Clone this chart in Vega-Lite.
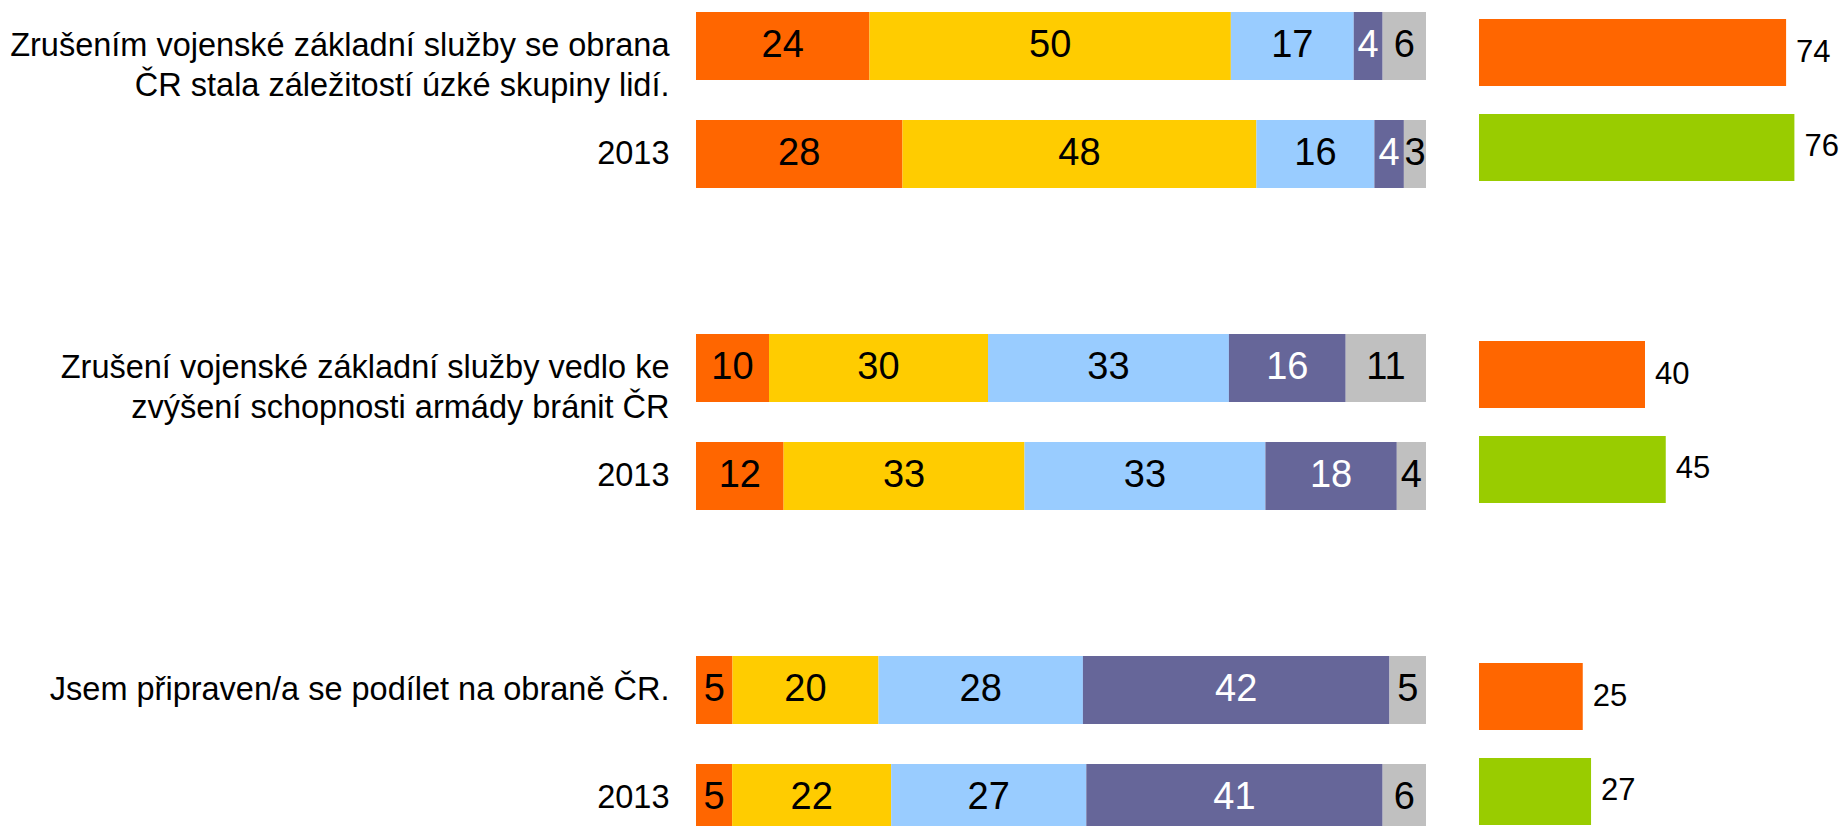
{
  "$schema": "https://vega.github.io/schema/vega-lite/v6.json",
  "padding": 0,
  "background": "white",
  "config": {"view": {"stroke": null}, "font": "Liberation Sans", "text": {"font": "Liberation Sans"}},
  "datasets": {
    "stack": [
      {"g": 1, "row": "Zrušením vojenské základní služby se obrana|ČR stala záležitostí úzké skupiny lidí.", "cat": "a", "k": 1, "value": 24},
      {"g": 1, "row": "Zrušením vojenské základní služby se obrana|ČR stala záležitostí úzké skupiny lidí.", "cat": "b", "k": 2, "value": 50},
      {"g": 1, "row": "Zrušením vojenské základní služby se obrana|ČR stala záležitostí úzké skupiny lidí.", "cat": "c", "k": 3, "value": 17},
      {"g": 1, "row": "Zrušením vojenské základní služby se obrana|ČR stala záležitostí úzké skupiny lidí.", "cat": "d", "k": 4, "value": 4},
      {"g": 1, "row": "Zrušením vojenské základní služby se obrana|ČR stala záležitostí úzké skupiny lidí.", "cat": "e", "k": 5, "value": 6},
      {"g": 1, "row": "2013", "cat": "a", "k": 1, "value": 28},
      {"g": 1, "row": "2013", "cat": "b", "k": 2, "value": 48},
      {"g": 1, "row": "2013", "cat": "c", "k": 3, "value": 16},
      {"g": 1, "row": "2013", "cat": "d", "k": 4, "value": 4},
      {"g": 1, "row": "2013", "cat": "e", "k": 5, "value": 3},
      {"g": 2, "row": "Zrušení vojenské základní služby vedlo ke|zvýšení schopnosti armády bránit ČR", "cat": "a", "k": 1, "value": 10},
      {"g": 2, "row": "Zrušení vojenské základní služby vedlo ke|zvýšení schopnosti armády bránit ČR", "cat": "b", "k": 2, "value": 30},
      {"g": 2, "row": "Zrušení vojenské základní služby vedlo ke|zvýšení schopnosti armády bránit ČR", "cat": "c", "k": 3, "value": 33},
      {"g": 2, "row": "Zrušení vojenské základní služby vedlo ke|zvýšení schopnosti armády bránit ČR", "cat": "d", "k": 4, "value": 16},
      {"g": 2, "row": "Zrušení vojenské základní služby vedlo ke|zvýšení schopnosti armády bránit ČR", "cat": "e", "k": 5, "value": 11},
      {"g": 2, "row": "2013", "cat": "a", "k": 1, "value": 12},
      {"g": 2, "row": "2013", "cat": "b", "k": 2, "value": 33},
      {"g": 2, "row": "2013", "cat": "c", "k": 3, "value": 33},
      {"g": 2, "row": "2013", "cat": "d", "k": 4, "value": 18},
      {"g": 2, "row": "2013", "cat": "e", "k": 5, "value": 4},
      {"g": 3, "row": "Jsem připraven/a se podílet na obraně ČR.", "cat": "a", "k": 1, "value": 5},
      {"g": 3, "row": "Jsem připraven/a se podílet na obraně ČR.", "cat": "b", "k": 2, "value": 20},
      {"g": 3, "row": "Jsem připraven/a se podílet na obraně ČR.", "cat": "c", "k": 3, "value": 28},
      {"g": 3, "row": "Jsem připraven/a se podílet na obraně ČR.", "cat": "d", "k": 4, "value": 42},
      {"g": 3, "row": "Jsem připraven/a se podílet na obraně ČR.", "cat": "e", "k": 5, "value": 5},
      {"g": 3, "row": "2013", "cat": "a", "k": 1, "value": 5},
      {"g": 3, "row": "2013", "cat": "b", "k": 2, "value": 22},
      {"g": 3, "row": "2013", "cat": "c", "k": 3, "value": 27},
      {"g": 3, "row": "2013", "cat": "d", "k": 4, "value": 41},
      {"g": 3, "row": "2013", "cat": "e", "k": 5, "value": 6}
    ],
    "total": [
      {"g": 1, "row": "now", "value": 74},
      {"g": 1, "row": "2013", "value": 76},
      {"g": 2, "row": "now", "value": 40},
      {"g": 2, "row": "2013", "value": 45},
      {"g": 3, "row": "now", "value": 25},
      {"g": 3, "row": "2013", "value": 27}
    ]
  },
  "spacing": 122,
  "resolve": {"scale": {"x": "independent", "y": "independent", "color": "independent"}},
  "vconcat": [
    {
      "spacing": 53,
      "resolve": {"scale": {"x": "independent", "y": "independent", "color": "independent"}},
      "hconcat": [
        {
          "width": 730, "height": 200,
          "data": {"name": "stack"},
          "transform": [{"filter": "datum.g == 1"}],
          "encoding": {
            "y": {"field": "row", "type": "nominal", "sort": null,
              "scale": {"domain": ["Zrušením vojenské základní služby se obrana|ČR stala záležitostí úzké skupiny lidí.", "2013"], "range": [0, 200], "paddingInner": 0.3704, "paddingOuter": 0.111},
              "axis": {"title": null, "domain": false, "ticks": false, "grid": false, "labelPadding": 27, "labelFontSize": 32.5, "labelFont": "Liberation Sans", "labelColor": "black", "labelLimit": 0, "labelLineHeight": 40, "labelExpr": "split(datum.value, '|')", "minExtent": 696, "maxExtent": 696}},
            "x": {"field": "value", "type": "quantitative", "stack": "normalize", "axis": null, "scale": {"domain": [0, 1], "nice": false}},
            "order": {"field": "k", "type": "quantitative"},
            "detail": {"field": "cat"}
          },
          "layer": [
            {"mark": {"type": "bar", "clip": true},
             "encoding": {"color": {"field": "cat", "type": "nominal", "legend": null, "scale": {"domain": ["a", "b", "c", "d", "e"], "range": ["#FF6600", "#FFCC00", "#99CCFF", "#666699", "#C0C0C0"]}}}},
            {"mark": {"type": "text", "fontSize": 38, "clip": true, "baseline": "middle"},
             "encoding": {"x": {"field": "value", "type": "quantitative", "stack": "normalize", "bandPosition": 0.5, "axis": null, "scale": {"domain": [0, 1], "nice": false}},
               "text": {"field": "value"},
               "color": {"condition": {"test": "datum.cat == 'd'", "value": "white"}, "value": "black"}}}
          ]
        },
        {
          "width": 332, "height": 200,
          "data": {"name": "total"},
          "transform": [{"filter": "datum.g == 1"}],
          "encoding": {
            "y": {"field": "row", "type": "nominal", "sort": null, "axis": null,
              "scale": {"domain": ["now", "2013"], "range": [0, 200], "paddingInner": 0.2947, "paddingOuter": 0.2}},
            "x": {"field": "value", "type": "quantitative", "axis": null, "scale": {"domain": [0, 80], "nice": false}}
          },
          "layer": [
            {"mark": {"type": "bar"},
             "encoding": {"color": {"condition": {"test": "datum.row == '2013'", "value": "#99CC00"}, "value": "#FF6600"}}},
            {"mark": {"type": "text", "align": "left", "dx": 10, "fontSize": 31, "baseline": "middle", "color": "black"},
             "encoding": {"text": {"field": "value"}}}
          ]
        }
      ]
    },
    {
      "spacing": 53,
      "resolve": {"scale": {"x": "independent", "y": "independent", "color": "independent"}},
      "hconcat": [
        {
          "width": 730, "height": 200,
          "data": {"name": "stack"},
          "transform": [{"filter": "datum.g == 2"}],
          "encoding": {
            "y": {"field": "row", "type": "nominal", "sort": null,
              "scale": {"domain": ["Zrušení vojenské základní služby vedlo ke|zvýšení schopnosti armády bránit ČR", "2013"], "range": [0, 200], "paddingInner": 0.3704, "paddingOuter": 0.111},
              "axis": {"title": null, "domain": false, "ticks": false, "grid": false, "labelPadding": 27, "labelFontSize": 32.5, "labelFont": "Liberation Sans", "labelColor": "black", "labelLimit": 0, "labelLineHeight": 40, "labelExpr": "split(datum.value, '|')", "minExtent": 696, "maxExtent": 696}},
            "x": {"field": "value", "type": "quantitative", "stack": "normalize", "axis": null, "scale": {"domain": [0, 1], "nice": false}},
            "order": {"field": "k", "type": "quantitative"},
            "detail": {"field": "cat"}
          },
          "layer": [
            {"mark": {"type": "bar", "clip": true},
             "encoding": {"color": {"field": "cat", "type": "nominal", "legend": null, "scale": {"domain": ["a", "b", "c", "d", "e"], "range": ["#FF6600", "#FFCC00", "#99CCFF", "#666699", "#C0C0C0"]}}}},
            {"mark": {"type": "text", "fontSize": 38, "clip": true, "baseline": "middle"},
             "encoding": {"x": {"field": "value", "type": "quantitative", "stack": "normalize", "bandPosition": 0.5, "axis": null, "scale": {"domain": [0, 1], "nice": false}},
               "text": {"field": "value"},
               "color": {"condition": {"test": "datum.cat == 'd'", "value": "white"}, "value": "black"}}}
          ]
        },
        {
          "width": 332, "height": 200,
          "data": {"name": "total"},
          "transform": [{"filter": "datum.g == 2"}],
          "encoding": {
            "y": {"field": "row", "type": "nominal", "sort": null, "axis": null,
              "scale": {"domain": ["now", "2013"], "range": [0, 200], "paddingInner": 0.2947, "paddingOuter": 0.2}},
            "x": {"field": "value", "type": "quantitative", "axis": null, "scale": {"domain": [0, 80], "nice": false}}
          },
          "layer": [
            {"mark": {"type": "bar"},
             "encoding": {"color": {"condition": {"test": "datum.row == '2013'", "value": "#99CC00"}, "value": "#FF6600"}}},
            {"mark": {"type": "text", "align": "left", "dx": 10, "fontSize": 31, "baseline": "middle", "color": "black"},
             "encoding": {"text": {"field": "value"}}}
          ]
        }
      ]
    },
    {
      "spacing": 53,
      "resolve": {"scale": {"x": "independent", "y": "independent", "color": "independent"}},
      "hconcat": [
        {
          "width": 730, "height": 182,
          "data": {"name": "stack"},
          "transform": [{"filter": "datum.g == 3"}],
          "encoding": {
            "y": {"field": "row", "type": "nominal", "sort": null,
              "scale": {"domain": ["Jsem připraven/a se podílet na obraně ČR.", "2013"], "range": [0, 200], "paddingInner": 0.3704, "paddingOuter": 0.111},
              "axis": {"title": null, "domain": false, "ticks": false, "grid": false, "labelPadding": 27, "labelFontSize": 32.5, "labelFont": "Liberation Sans", "labelColor": "black", "labelLimit": 0, "labelLineHeight": 40, "labelExpr": "split(datum.value, '|')", "minExtent": 696, "maxExtent": 696}},
            "x": {"field": "value", "type": "quantitative", "stack": "normalize", "axis": null, "scale": {"domain": [0, 1], "nice": false}},
            "order": {"field": "k", "type": "quantitative"},
            "detail": {"field": "cat"}
          },
          "layer": [
            {"mark": {"type": "bar", "clip": true},
             "encoding": {"color": {"field": "cat", "type": "nominal", "legend": null, "scale": {"domain": ["a", "b", "c", "d", "e"], "range": ["#FF6600", "#FFCC00", "#99CCFF", "#666699", "#C0C0C0"]}}}},
            {"mark": {"type": "text", "fontSize": 38, "clip": true, "baseline": "middle"},
             "encoding": {"x": {"field": "value", "type": "quantitative", "stack": "normalize", "bandPosition": 0.5, "axis": null, "scale": {"domain": [0, 1], "nice": false}},
               "text": {"field": "value"},
               "color": {"condition": {"test": "datum.cat == 'd'", "value": "white"}, "value": "black"}}}
          ]
        },
        {
          "width": 332, "height": 182,
          "data": {"name": "total"},
          "transform": [{"filter": "datum.g == 3"}],
          "encoding": {
            "y": {"field": "row", "type": "nominal", "sort": null, "axis": null,
              "scale": {"domain": ["now", "2013"], "range": [0, 200], "paddingInner": 0.2947, "paddingOuter": 0.2}},
            "x": {"field": "value", "type": "quantitative", "axis": null, "scale": {"domain": [0, 80], "nice": false}}
          },
          "layer": [
            {"mark": {"type": "bar", "clip": true},
             "encoding": {"color": {"condition": {"test": "datum.row == '2013'", "value": "#99CC00"}, "value": "#FF6600"}}},
            {"mark": {"type": "text", "align": "left", "dx": 10, "fontSize": 31, "baseline": "middle", "color": "black"},
             "encoding": {"text": {"field": "value"}}}
          ]
        }
      ]
    }
  ]
}
